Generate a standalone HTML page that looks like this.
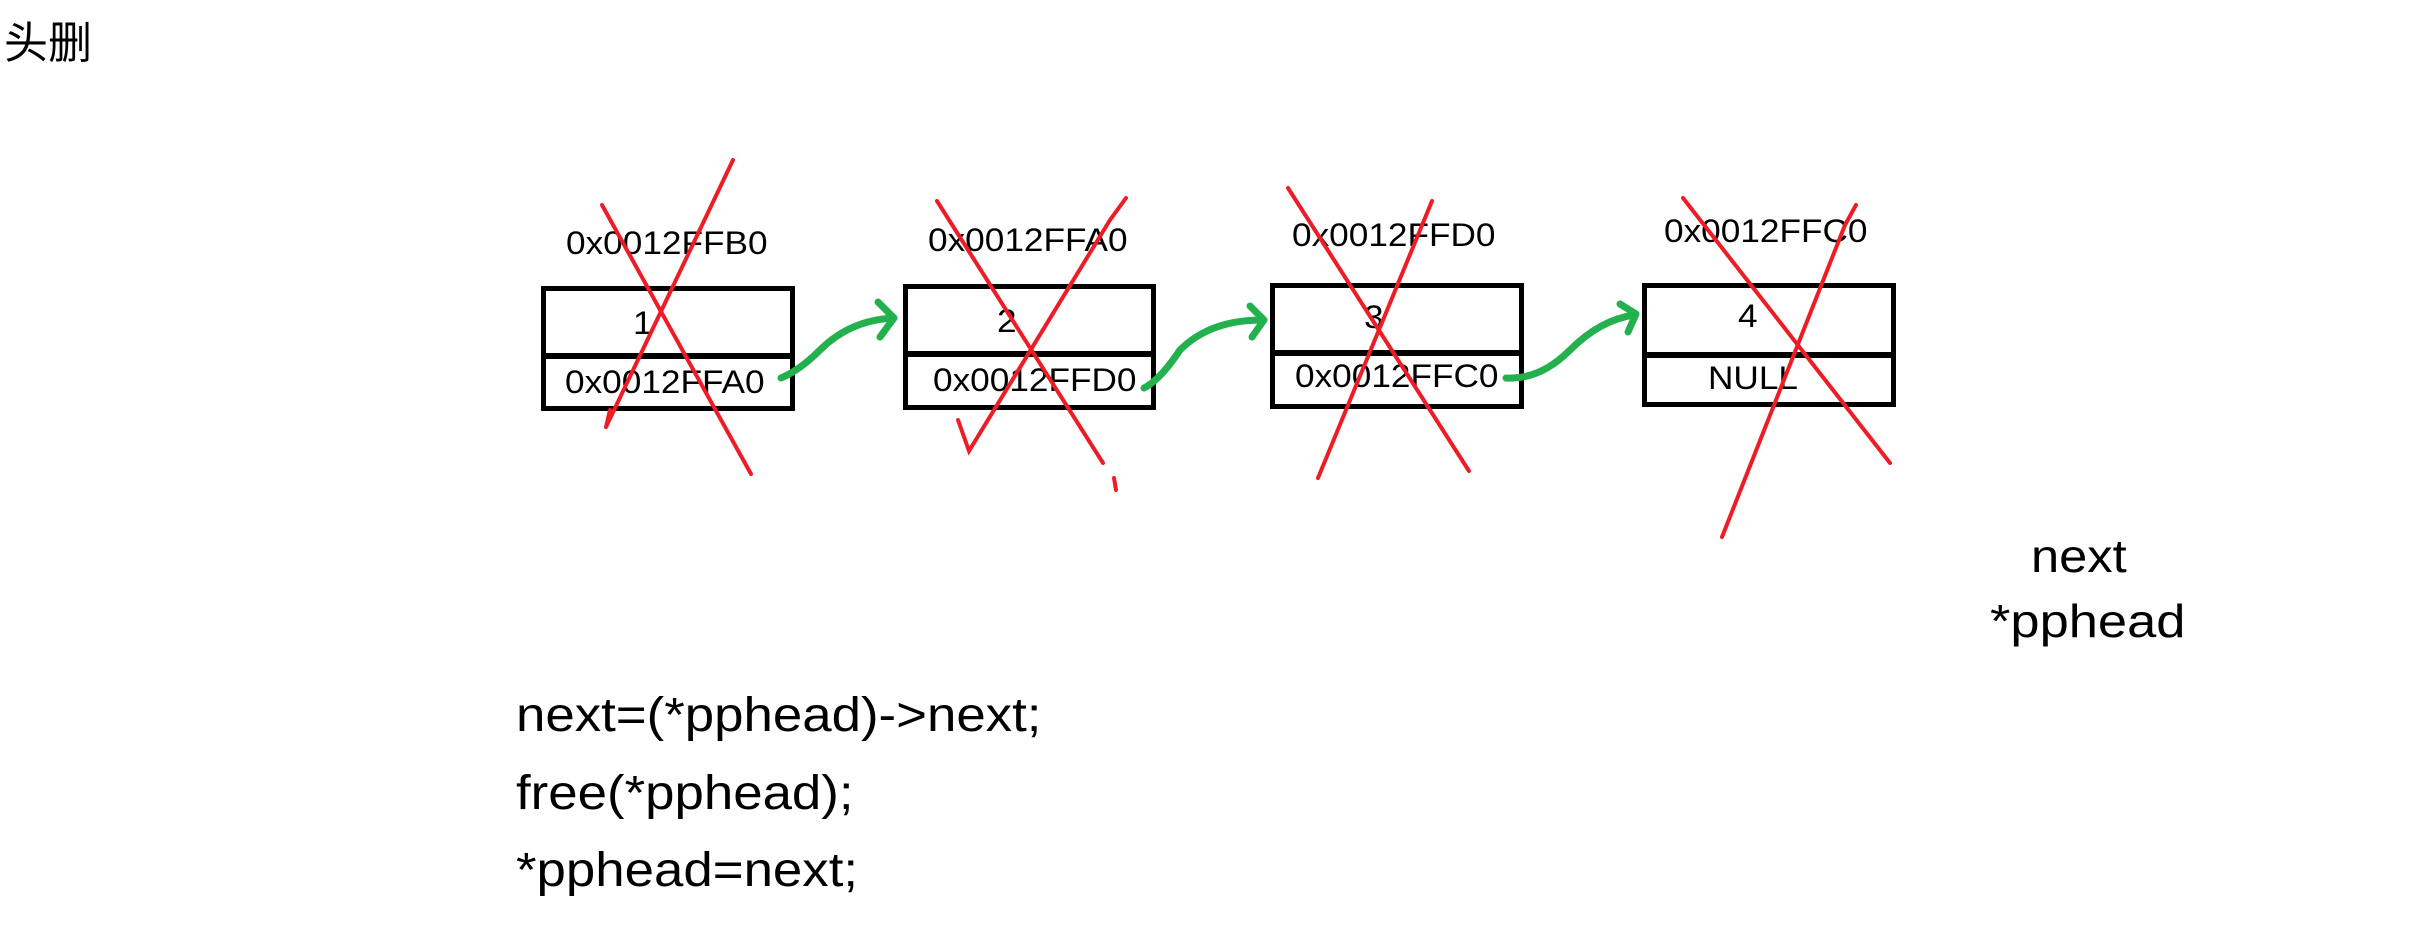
<!DOCTYPE html>
<html><head><meta charset="utf-8"><style>
html,body{margin:0;padding:0;background:#fff;}
body{width:2420px;height:948px;position:relative;overflow:hidden;font-family:"Liberation Sans","Noto Sans CJK SC",sans-serif;color:#000;}
.t{position:absolute;white-space:nowrap;line-height:1;transform-origin:0 0;}
.a{font-size:32px;transform:scaleX(1.1);}
.c{font-size:48px;transform:scaleX(1.1);}
.box{position:absolute;border:5px solid #000;box-sizing:border-box;}
.div{position:absolute;left:0;right:0;height:6px;background:#000;}
</style></head><body>
<div class="t" style="left:4px;top:22px;font-size:44px;">头删</div>

<div class="t a" style="left:566px;top:227px;">0x0012FFB0</div>
<div class="t a" style="left:928px;top:224px;">0x0012FFA0</div>
<div class="t a" style="left:1292px;top:219px;">0x0012FFD0</div>
<div class="t a" style="left:1664px;top:215px;">0x0012FFC0</div>

<div class="box" style="left:541px;top:286px;width:254px;height:125px;"><div class="div" style="top:62px;"></div></div>
<div class="box" style="left:903px;top:284px;width:253px;height:126px;"><div class="div" style="top:62px;"></div></div>
<div class="box" style="left:1270px;top:283px;width:254px;height:126px;"><div class="div" style="top:62px;"></div></div>
<div class="box" style="left:1642px;top:283px;width:254px;height:124px;"><div class="div" style="top:64px;"></div></div>

<div class="t a" style="left:633px;top:307px;">1</div>
<div class="t a" style="left:997px;top:305px;">2</div>
<div class="t a" style="left:1364px;top:301px;">3</div>
<div class="t a" style="left:1738px;top:300px;">4</div>
<div class="t a" style="left:565px;top:366px;">0x0012FFA0</div>
<div class="t a" style="left:933px;top:364px;">0x0012FFD0</div>
<div class="t a" style="left:1295px;top:360px;">0x0012FFC0</div>
<div class="t a" style="left:1708px;top:362px;">NULL</div>

<svg width="2420" height="948" style="position:absolute;left:0;top:0;" fill="none" stroke-linecap="round">
<g stroke="#ee1c24" stroke-width="4">
<path d="M602,205 L751,474"/><path d="M733,160 L606,427 M606,427 L610,410"/>
<path d="M937,201 L1103,463"/><path d="M1126,198 L1110,220 L969,451 L958,420"/>
<path d="M1114,478 L1116,490"/>
<path d="M1288,188 L1469,471"/><path d="M1432,201 L1318,478"/>
<path d="M1683,198 L1890,463"/><path d="M1856,205 L1845,225 L1722,537"/>
</g>
<g stroke="#22b14c" stroke-width="7" stroke-linejoin="round">
<path d="M781,378 Q800,370 820,350 Q850,320 894,318"/><path d="M878,302 L894,318 L880,337"/>
<path d="M1144,388 Q1160,380 1180,350 Q1210,320 1262,320"/><path d="M1250,306 L1264,320 L1252,337"/>
<path d="M1506,378 Q1540,380 1570,350 Q1600,320 1634,315"/><path d="M1620,304 L1636,314 L1628,332"/>
</g>
</svg>

<div class="t" style="left:2031px;top:533px;font-size:46px;transform:scaleX(1.1);">next</div>
<div class="t" style="left:1990px;top:598px;font-size:46px;transform:scaleX(1.14);">*pphead</div>

<div class="t c" style="left:516px;top:692px;">next=(*pphead)-&gt;next;</div>
<div class="t c" style="left:516px;top:770px;">free(*pphead);</div>
<div class="t c" style="left:516px;top:847px;">*pphead=next;</div>
</body></html>
